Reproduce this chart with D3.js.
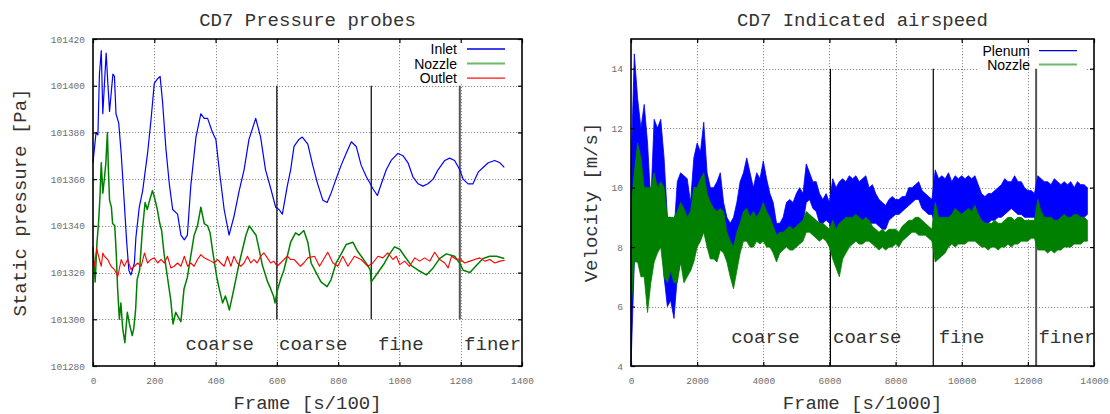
<!DOCTYPE html>
<html>
<head>
<meta charset="utf-8">
<script src="https://cdn.jsdelivr.net/npm/d3@7"></script>
<style>
  body { margin: 0; background: #fff; }
  svg { display: block; }
</style>
</head>
<body>
<svg id="chart" width="1110" height="414"></svg>
<script>
// ---------------- data ----------------
// left panel: static pressure [Pa] against frame [s/100], as [frame, value]
let inletSeries = [
  [0,101367],[10,101380],[16,101379],[21,101405],[27,101415],[32,101388],[37,101400],[43,101414],
  [48,101402],[54,101389],[65,101405],[70,101404],[75,101388],[84,101384],[92,101371],[102,101350],
  [110,101333],[117,101321],[124,101319],[135,101324],[140,101335],[151,101348],[162,101355],[178,101371],
  [189,101385],[200,101401],[211,101403],[219,101404],[227,101393],[238,101373],[249,101358],[260,101347],
  [276,101345],[287,101336],[298,101334],[308,101336],[319,101357],[336,101378],[352,101388],[363,101386],
  [374,101386],[390,101380],[401,101377],[412,101364],[428,101347],[444,101336],[460,101344],[477,101355],
  [493,101364],[509,101377],[531,101386],[547,101378],[563,101364],[580,101356],[596,101348],[607,101347],
  [618,101345],[634,101357],[645,101364],[656,101374],[672,101377],[683,101378],[701,101375],[717,101366],
  [733,101358],[750,101351],[764,101350],[777,101354],[793,101360],[810,101366],[826,101371],[843,101376],
  [859,101374],[875,101366],[892,101361],[905,101358],[913,101356],[928,101353],[941,101358],[957,101364],
  [973,101368],[995,101371],[1012,101370],[1028,101367],[1044,101361],[1061,101358],[1077,101357],[1093,101358],
  [1110,101360],[1126,101364],[1148,101368],[1164,101369],[1180,101368],[1197,101364],[1208,101360],[1224,101358],
  [1240,101358],[1257,101363],[1273,101365],[1290,101367],[1311,101368],[1328,101367],[1342,101365]
];
let nozzlePressureSeries = [
  [0,101331],[7,101316],[13,101333],[18,101341],[23,101353],[27,101367],[32,101354],[37,101360],
  [42,101367],[47,101380],[50,101365],[54,101351],[60,101348],[64,101341],[71,101340],[76,101328],
  [80,101314],[86,101300],[91,101307],[97,101296],[104,101290],[112,101303],[119,101298],[128,101293],
  [133,101296],[139,101304],[144,101317],[152,101321],[161,101338],[170,101350],[177,101347],[185,101351],
  [194,101355],[199,101353],[210,101347],[218,101341],[224,101338],[232,101328],[243,101318],[254,101308],
  [261,101298],[270,101303],[278,101301],[287,101299],[297,101313],[308,101318],[319,101327],[330,101336],
  [341,101340],[352,101348],[363,101341],[374,101340],[382,101337],[393,101327],[404,101318],[412,101313],
  [423,101307],[432,101310],[439,101307],[445,101304],[455,101310],[466,101317],[477,101324],[488,101330],
  [499,101336],[510,101340],[521,101338],[532,101336],[542,101330],[553,101323],[570,101316],[580,101313],
  [589,101310],[594,101307],[601,101312],[612,101317],[623,101321],[634,101327],[645,101333],[661,101337],
  [672,101336],[688,101338],[701,101333],[712,101324],[728,101320],[744,101316],[764,101314],[777,101317],
  [793,101324],[810,101328],[826,101332],[848,101333],[864,101329],[881,101326],[897,101323],[905,101321],
  [908,101316],[919,101318],[935,101321],[951,101324],[968,101328],[984,101331],[1001,101330],[1017,101327],
  [1039,101323],[1061,101321],[1088,101319],[1110,101322],[1131,101326],[1153,101328],[1180,101327],[1197,101324],
  [1208,101321],[1230,101320],[1251,101323],[1273,101326],[1295,101327],[1317,101327],[1342,101326]
];
let outletSeries = [
  [0,101327],[5,101322.7],[12,101330.3],[21,101325.6],[27,101322.7],[32,101328.4],[37,101327],[48,101325.6],
  [59,101322.7],[70,101321.3],[81,101318.4],[92,101325.6],[102,101322.7],[113,101325.6],[124,101321.3],[135,101322.7],
  [146,101324.1],[157,101322.7],[168,101328.4],[178,101324.1],[189,101325.6],[200,101326.3],[211,101324.1],[222,101325.6],
  [233,101324.1],[243,101327],[254,101322],[265,101322.7],[276,101324.1],[287,101322.7],[298,101327],[309,101322.7],
  [319,101324.1],[330,101322.7],[341,101325.6],[352,101327.7],[363,101326.3],[374,101325.6],[385,101324.9],[395,101324.1],
  [406,101325.6],[417,101324.1],[428,101322.7],[439,101327],[450,101322.7],[460,101327],[471,101324.1],[482,101322.7],
  [493,101324.1],[504,101327],[515,101324.1],[525,101325.6],[536,101324.1],[547,101327],[558,101328.4],[569,101326.3],
  [580,101324.1],[590,101324.9],[601,101322.7],[612,101324.1],[623,101325.6],[634,101327],[645,101325.6],[656,101325.6],
  [667,101324.1],[677,101322.7],[688,101324.1],[701,101326.3],[723,101327],[739,101322.7],[766,101328.7],[783,101324.1],
  [799,101322.7],[815,101327],[832,101322.7],[853,101327],[875,101325.6],[897,101322.7],[913,101324.1],[930,101327],
  [946,101326.3],[962,101328.4],[979,101325.6],[990,101327],[1001,101323.4],[1017,101324.9],[1033,101322.7],[1050,101326.3],
  [1066,101324.9],[1082,101326.3],[1099,101324.9],[1115,101328.7],[1131,101325.6],[1148,101324.1],[1159,101322],[1170,101327],
  [1186,101325.6],[1197,101325.9],[1213,101324.1],[1230,101324.9],[1246,101325.6],[1262,101326.3],[1279,101324.9],[1295,101325.6],
  [1311,101324.1],[1328,101324.9],[1344,101325.3]
];

// right panel: indicated airspeed [m/s]; the noisy trace fills a band between
// these upper (hi) and lower (lo) readings, one pair per 100 frames [s/1000]
let velFrames = d3.range(0, 13801, 100);
let plenumHi = [
  10.5,14.5,13.0,12.0,12.8,11.5,9.5,12.3,12.0,12.3,
  11.0,9.0,9.0,8.5,10.2,10.5,10.4,10.3,9.5,11.0,
  11.5,11.2,12.2,10.5,10.0,10.0,10.2,10.5,9.5,9.0,
  8.8,9.0,9.5,10.2,10.5,11.0,10.5,10.0,10.5,10.3,
  10.9,10.3,9.8,9.5,8.8,8.8,9.0,9.5,9.6,9.5,
  9.8,10.0,9.8,10.8,10.5,10.2,10.2,9.8,9.6,9.8,
  9.5,10.3,10.0,10.2,10.3,10.2,10.4,10.3,10.4,10.2,
  10.3,10.4,10.0,10.1,9.8,9.6,9.5,9.4,9.6,9.7,
  9.6,9.6,9.7,9.7,10.0,10.0,10.1,10.2,9.9,9.8,
  9.7,9.6,10.6,10.3,10.4,10.3,10.5,10.2,10.4,10.3,
  10.4,10.3,10.4,10.3,10.4,10.1,9.8,9.7,9.8,9.8,
  9.9,10.0,10.1,10.3,10.2,10.2,10.4,10.2,10.2,10.0,
  9.9,9.9,9.8,10.4,10.3,10.2,10.2,10.1,10.3,10.2,
  10.1,10.2,10.1,10.2,10.0,10.2,10.1,10.1,10.0
];
let plenumLo = [
  4.0,7.5,8.0,8.5,8.0,7.0,7.0,8.5,8.5,9.0,
  7.0,6.0,6.2,5.6,7.0,7.5,8.0,7.5,7.2,8.0,
  8.5,8.5,9.0,8.5,8.5,8.5,8.0,8.5,8.0,7.8,
  7.5,7.2,8.0,8.5,8.8,9.2,9.0,8.8,9.0,9.0,
  9.2,9.0,8.7,8.3,7.8,8.0,8.2,8.3,8.4,8.5,
  8.6,8.8,8.8,9.5,9.6,9.3,9.2,8.8,8.8,8.9,
  8.8,8.0,7.5,8.3,8.6,8.8,9.0,8.9,9.0,8.8,
  8.9,9.0,8.8,8.8,8.8,8.7,8.6,8.6,8.9,9.0,
  9.1,9.1,9.2,9.3,9.4,9.5,9.6,9.6,9.3,9.2,
  9.1,9.1,8.8,8.8,8.9,8.9,8.9,9.0,9.0,9.0,
  9.1,9.2,9.2,9.2,9.2,9.1,8.9,8.8,8.8,8.9,
  8.9,9.0,9.0,9.1,9.2,9.3,9.2,9.1,9.1,9.0,
  9.0,9.0,9.0,8.8,8.8,8.8,8.8,8.7,8.7,8.8,
  8.8,8.9,8.9,8.8,8.9,9.0,9.0,9.0,9.1
];
let nozzleHi = [
  9.3,10.5,11.5,11.0,10.0,10.0,10.0,10.5,10.0,10.2,
  10.0,9.0,9.0,9.0,9.2,9.5,9.3,9.0,9.2,10.0,
  10.0,10.3,10.5,9.8,9.5,9.3,9.2,9.3,9.2,8.5,
  8.2,8.0,8.5,8.8,9.2,9.3,9.0,9.2,9.0,9.2,
  9.5,9.2,9.0,8.7,8.4,8.5,8.5,8.6,8.7,8.6,
  8.7,8.8,8.9,9.2,9.1,9.0,8.9,8.8,8.8,8.7,
  8.6,8.9,8.6,8.8,8.9,9.0,9.0,9.0,9.1,9.0,
  8.9,9.0,8.9,8.7,8.6,8.5,8.6,8.5,8.6,8.6,
  8.6,8.5,8.7,8.8,8.9,8.9,9.0,9.0,8.9,8.8,
  8.7,8.6,9.5,9.0,9.0,9.0,9.0,9.1,9.3,9.2,
  9.1,9.2,9.3,9.2,9.4,9.1,8.9,8.8,8.8,8.8,
  8.9,8.8,8.8,8.9,9.0,9.0,8.9,9.0,9.0,8.9,
  8.9,8.9,8.9,9.6,9.2,9.0,9.0,9.0,8.9,8.9,
  9.0,9.1,9.0,9.0,9.1,9.1,9.0,9.0,8.9
];
let nozzleLo = [
  5.9,7.5,7.5,7.0,7.0,5.8,6.8,7.5,7.8,8.0,
  7.0,6.8,7.2,6.8,6.8,7.5,6.8,7.0,7.2,7.5,
  8.0,8.2,8.5,8.0,7.6,7.6,7.5,7.9,7.8,7.5,
  7.0,6.6,7.2,7.8,8.2,8.2,8.0,8.0,8.2,8.1,
  8.2,8.0,8.0,7.8,7.5,7.8,7.9,8.0,7.9,7.9,
  8.0,8.1,8.2,8.5,8.5,8.4,8.3,8.2,8.3,8.2,
  8.0,7.6,7.3,7.0,7.6,7.8,8.0,8.1,8.2,8.1,
  8.1,8.2,8.2,8.1,8.0,7.9,8.0,7.9,8.0,8.0,
  8.1,8.0,8.2,8.3,8.4,8.5,8.5,8.4,8.4,8.4,
  8.3,8.2,7.5,7.6,7.7,7.8,8.0,8.1,8.0,8.1,
  8.1,8.1,8.2,8.2,8.2,8.1,8.0,8.0,7.9,8.0,
  8.0,7.9,8.0,8.0,8.1,8.0,8.1,8.1,8.2,8.2,
  8.2,8.3,8.3,7.9,7.9,7.9,7.8,7.9,7.8,7.9,
  7.9,8.0,8.0,8.0,8.1,8.1,8.1,8.2,8.2
];

// ticks
let pressureXTicks = [0, 200, 400, 600, 800, 1000, 1200, 1400];
let pressureYTicks = [101280, 101300, 101320, 101340, 101360, 101380, 101400, 101420];
let velXTicks = [0, 2000, 4000, 6000, 8000, 10000, 12000, 14000];
let velYTicks = [4, 6, 8, 10, 12, 14];

// mesh annotations
let meshLabels = ['coarse', 'coarse', 'fine', 'finer'];
let pressureLabelFrames = [302, 607, 930, 1211];
let pressureLabelValue = 101287;
let pressureMarkerFrames = [600, 908, 1197];
let pressureMarkerRange = [101300, 101400];
let velLabelFrames = [3030, 6110, 9305, 12320];
let velLabelValue = 4.77;
let velMarkerFrames = [6030, 9140, 12250];
let velMarkerRange = [4, 14];

// ---------------- drawing ----------------
let svg = d3.select('#chart');
let monoFont = '"Liberation Mono", "DejaVu Sans Mono", monospace';
let sansFont = '"Liberation Sans", Arial, sans-serif';

function getPanelConfig(left, right) {
  let margin = { left: left, top: 39 };
  let bodyWidth = right - left;
  let bodyHeight = 366 - 39;
  let container = svg.append('g');
  let body = container.append('g')
    .attr('transform', `translate(${margin.left},${margin.top})`);
  return { margin, bodyWidth, bodyHeight, container, body };
}

function getScales(xDomain, yDomain, config) {
  let xScale = d3.scaleLinear().domain(xDomain).range([0, config.bodyWidth]);
  let yScale = d3.scaleLinear().domain(yDomain).range([config.bodyHeight, 0]);
  return { xScale, yScale };
}

function gridGroup(body) {
  return body.append('g')
    .attr('stroke', '#8a8a8a')
    .attr('stroke-width', 1)
    .attr('stroke-dasharray', '1.2 1.8');
}

function drawHorizontalGrid(config, scales, yTicks) {
  let { body, bodyWidth, bodyHeight } = config;
  let { yScale } = scales;
  // skip the ticks that sit on the border
  let inner = yTicks.filter(d => yScale(d) > 1 && yScale(d) < bodyHeight - 1);
  gridGroup(body).selectAll('line').data(inner)
    .enter().append('line')
    .attr('x1', 0).attr('x2', bodyWidth)
    .attr('y1', d => Math.round(yScale(d)) + 0.5)
    .attr('y2', d => Math.round(yScale(d)) + 0.5);
}

function drawVerticalGrid(config, scales, xTicks) {
  let { body, bodyWidth, bodyHeight } = config;
  let { xScale } = scales;
  let inner = xTicks.filter(d => xScale(d) > 1 && xScale(d) < bodyWidth - 1);
  gridGroup(body).selectAll('line').data(inner)
    .enter().append('line')
    .attr('y1', 0).attr('y2', bodyHeight)
    .attr('x1', d => Math.round(xScale(d)) + 0.5)
    .attr('x2', d => Math.round(xScale(d)) + 0.5);
}

function drawKeyBox(config, box) {
  config.body.append('rect')
    .attr('x', box.x).attr('y', box.y)
    .attr('width', box.w).attr('height', box.h)
    .attr('fill', '#fff');
}

function drawAxes(config, scales, xTicks, yTicks) {
  let { body, bodyWidth, bodyHeight } = config;
  let { xScale, yScale } = scales;
  let fmt = d3.format('d');

  let axisX = d3.axisBottom(xScale).tickValues(xTicks).tickSize(-4).tickPadding(11).tickFormat(fmt);
  let axisY = d3.axisLeft(yScale).tickValues(yTicks).tickSize(-4).tickPadding(8).tickFormat(fmt);
  let axisTop = d3.axisTop(xScale).tickValues(xTicks).tickSize(-4).tickFormat('');
  let axisRight = d3.axisRight(yScale).tickValues(yTicks).tickSize(-4).tickFormat('');

  let gx = body.append('g').attr('transform', `translate(0,${bodyHeight})`).call(axisX);
  let gy = body.append('g').call(axisY);
  let gt = body.append('g').call(axisTop);
  let gr = body.append('g').attr('transform', `translate(${bodyWidth},0)`).call(axisRight);

  [gx, gy, gt, gr].forEach(g => {
    g.select('.domain').remove();
    g.selectAll('.tick line').attr('stroke', '#000').attr('stroke-width', 1.2);
    g.selectAll('.tick text')
      .attr('fill', '#6e6e6e')
      .style('font-family', monoFont)
      .style('font-size', '9.5px');
  });
}

function drawBorder(config) {
  config.body.append('rect')
    .attr('x', 0).attr('y', 0)
    .attr('width', config.bodyWidth).attr('height', config.bodyHeight)
    .attr('fill', 'none')
    .attr('stroke', '#000')
    .attr('stroke-width', 1.6);
}

function drawMarkers(config, scales, frames, range) {
  let { xScale, yScale } = scales;
  let last = frames.length - 1;
  config.body.append('g').selectAll('line').data(frames)
    .enter().append('line')
    .attr('x1', d => xScale(d)).attr('x2', d => xScale(d))
    .attr('y1', yScale(range[1])).attr('y2', yScale(range[0]))
    .attr('stroke', (d, i) => i === last ? '#555' : '#000')
    .attr('stroke-width', (d, i) => i === last ? 2 : 1.2);
}

function drawMeshLabels(config, scales, frames, value) {
  let { xScale, yScale } = scales;
  config.body.append('g').selectAll('text').data(meshLabels)
    .enter().append('text')
    .attr('x', (d, i) => xScale(frames[i]))
    .attr('y', yScale(value))
    .attr('fill', '#333')
    .style('font-family', monoFont)
    .style('font-size', '19px')
    .text(d => d);
}

function drawLines(config, scales, seriesList) {
  let { xScale, yScale } = scales;
  let line = d3.line().x(d => xScale(d[0])).y(d => yScale(d[1]));
  seriesList.forEach(s => {
    config.body.append('path')
      .datum(s.data)
      .attr('d', line)
      .attr('fill', 'none')
      .attr('stroke', s.color)
      .attr('stroke-width', s.width)
      .attr('stroke-linejoin', 'round');
  });
}

// noisy traces drawn as the band they fill
function drawBands(config, scales, bands) {
  let { xScale, yScale } = scales;
  let area = d3.area()
    .x(d => xScale(d.frame))
    .y0(d => yScale(d.lo))
    .y1(d => yScale(d.hi));
  bands.forEach(b => {
    let rows = velFrames.map((f, i) => ({ frame: f, hi: b.hi[i], lo: b.lo[i] }));
    config.body.append('path')
      .datum(rows)
      .attr('d', area)
      .attr('fill', b.color)
      .attr('stroke', b.color)
      .attr('stroke-width', 0.8)
      .attr('stroke-linejoin', 'round');
  });
}

function drawLegend(config, legend) {
  let g = config.body.append('g');
  legend.items.forEach((item, i) => {
    let y = legend.y + i * legend.step;
    g.append('text')
      .attr('x', legend.textX)
      .attr('y', y + 5)
      .attr('text-anchor', 'end')
      .attr('fill', '#000')
      .style('font-family', sansFont)
      .style('font-size', '14px')
      .text(item.name);
    g.append('line')
      .attr('x1', legend.lineX).attr('x2', legend.lineX + 38)
      .attr('y1', y).attr('y2', y)
      .attr('stroke', item.color)
      .attr('stroke-width', item.width);
  });
}

function drawTexts(config, t) {
  let { container, margin, bodyWidth } = config;
  let cx = margin.left + bodyWidth / 2;
  container.append('text')
    .attr('x', cx).attr('y', 26)
    .attr('text-anchor', 'middle')
    .attr('fill', '#333')
    .style('font-family', monoFont).style('font-size', '19px')
    .text(t.title);
  container.append('text')
    .attr('x', cx).attr('y', 409)
    .attr('text-anchor', 'middle')
    .attr('fill', '#333')
    .style('font-family', monoFont).style('font-size', '19px')
    .text(t.xLabel);
  container.append('text')
    .attr('transform', `translate(${t.yLabelX},202.5) rotate(-90)`)
    .attr('text-anchor', 'middle')
    .attr('fill', '#333')
    .style('font-family', monoFont).style('font-size', '19px')
    .text(t.yLabel);
}

function drawPressureChart() {
  let config = getPanelConfig(93, 522);
  let scales = getScales([0, 1400], [101280, 101420], config);
  drawHorizontalGrid(config, scales, pressureYTicks);
  drawVerticalGrid(config, scales, pressureXTicks);
  drawKeyBox(config, { x: 308, y: 1, w: 112, h: 44 });
  drawMarkers(config, scales, pressureMarkerFrames, pressureMarkerRange);
  drawLines(config, scales, [
    { data: inletSeries, color: '#0000ff', width: 1.2 },
    { data: nozzlePressureSeries, color: '#008000', width: 1.5 },
    { data: outletSeries, color: '#ff0000', width: 1.1 }
  ]);
  drawMeshLabels(config, scales, pressureLabelFrames, pressureLabelValue);
  drawBorder(config);
  drawAxes(config, scales, pressureXTicks, pressureYTicks);
  drawLegend(config, {
    textX: 364, lineX: 374, y: 10, step: 14.6,
    items: [
      { name: 'Inlet', color: '#0000e0', width: 1.3 },
      { name: 'Nozzle', color: '#6cb86c', width: 2 },
      { name: 'Outlet', color: '#ff1010', width: 1.3 }
    ]
  });
  drawTexts(config, {
    title: 'CD7 Pressure probes',
    xLabel: 'Frame [s/100]',
    yLabel: 'Static pressure [Pa]',
    yLabelX: 26
  });
}

function drawVelocityChart() {
  let config = getPanelConfig(631, 1094);
  let scales = getScales([0, 14000], [4, 15], config);
  drawHorizontalGrid(config, scales, velYTicks);
  drawKeyBox(config, { x: 346, y: 1, w: 110, h: 34 });
  drawVerticalGrid(config, scales, velXTicks);
  drawMarkers(config, scales, velMarkerFrames, velMarkerRange);
  drawBands(config, scales, [
    { hi: plenumHi, lo: plenumLo, color: '#0000ff' },
    { hi: nozzleHi, lo: nozzleLo, color: '#008000' }
  ]);
  drawMeshLabels(config, scales, velLabelFrames, velLabelValue);
  drawBorder(config);
  drawAxes(config, scales, velXTicks, velYTicks);
  drawLegend(config, {
    textX: 399, lineX: 408, y: 11.7, step: 13.8,
    items: [
      { name: 'Plenum', color: '#0000e0', width: 1.3 },
      { name: 'Nozzle', color: '#6cb86c', width: 2 }
    ]
  });
  drawTexts(config, {
    title: 'CD7 Indicated airspeed',
    xLabel: 'Frame [s/1000]',
    yLabel: 'Velocity [m/s]',
    yLabelX: 597
  });
}

drawPressureChart();
drawVelocityChart();
</script>
</body>
</html>
